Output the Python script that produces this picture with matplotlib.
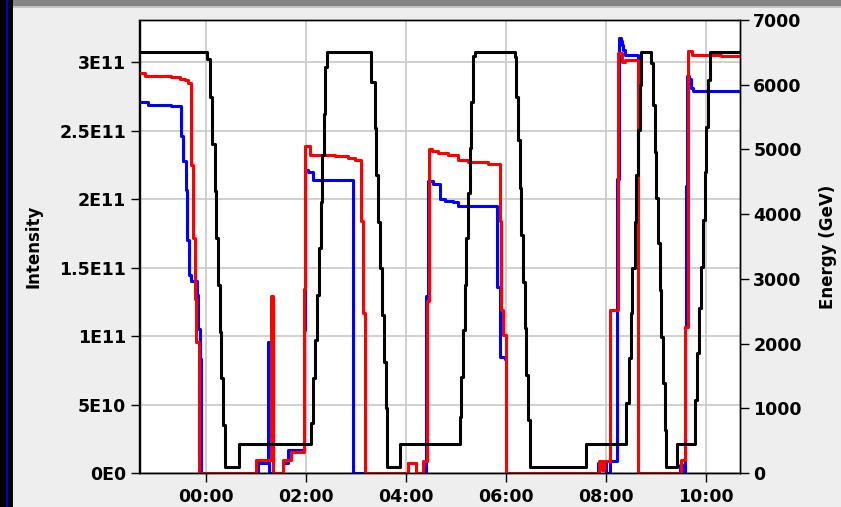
import matplotlib
matplotlib.use("Agg")
import matplotlib.pyplot as plt
from matplotlib.patches import Rectangle
from matplotlib.lines import Line2D

plt.rcParams['font.family'] = ['DejaVu Sans']
plt.rcParams['font.weight'] = 'bold'

# ---- data (time in hours relative to 00:00) ----
x_ticks = [0, 2, 4, 6, 8, 10]
x_tick_labels = ["00:00", "02:00", "04:00", "06:00", "08:00", "10:00"]
int_ticks = [0, 0.5, 1.0, 1.5, 2.0, 2.5, 3.0]          # in units of 1E11
int_tick_labels = ["0E0", "5E10", "1E11", "1.5E11", "2E11", "2.5E11", "3E11"]
en_ticks = [0, 1000, 2000, 3000, 4000, 5000, 6000, 7000]
en_tick_labels = ["0", "1000", "2000", "3000", "4000", "5000", "6000", "7000"]

energy_t = [-1.32, 0.036, 0.084, 0.13, 0.184, 0.216, 0.25, 0.284, 0.316, 0.35, 0.384, 0.67,
            2.104, 2.15, 2.184, 2.236, 2.264, 2.304, 2.336, 2.37, 2.396, 2.436,
            3.316, 3.384, 3.416, 3.45, 3.484, 3.53, 3.57, 3.604, 3.636, 3.89,
            5.084, 5.116, 5.15, 5.184, 5.216, 5.25, 5.284, 5.316, 5.35, 5.384,
            6.184, 6.216, 6.25, 6.284, 6.316, 6.35, 6.384, 6.416, 6.45, 6.484, 7.616,
            8.416, 8.464, 8.504, 8.536, 8.584, 8.616, 8.65, 8.684, 8.716,
            8.904, 8.95, 8.984, 9.016, 9.05, 9.084, 9.116, 9.15, 9.184, 9.216, 9.436,
            9.784, 9.836, 9.87, 9.916, 9.95, 9.984, 10.016, 10.05, 10.084, 10.69]
energy_gev = [6500, 6390, 5815, 5085, 4365, 3625, 2905, 2185, 1465, 740, 100, 450,
              770, 1465, 2055, 2750, 3470, 4190, 4915, 5555, 6280, 6500,
              6045, 5325, 4605, 3885, 3165, 2440, 1720, 1000, 100, 450,
              870, 1490, 2210, 2905, 3625, 4320, 5015, 5735, 6440, 6500,
              6430, 5815, 5145, 4400, 3675, 2955, 2235, 1515, 820, 100, 450,
              1080, 1770, 2470, 3165, 3885, 4605, 5300, 5995, 6500,
              6330, 5685, 4965, 4245, 3550, 2830, 2105, 1385, 665, 100, 450,
              1130, 1850, 2545, 3190, 3910, 4655, 5350, 6075, 6500, 6500]

b2_t = [-1.32, -1.216, -0.684, -0.516, -0.416, -0.35, -0.284, -0.25, -0.216, -0.184, -0.136,
        1.016, 1.316, 1.344, 1.55, 1.716, 1.97, 1.996, 2.084, 2.584, 2.85, 2.984, 3.104, 3.15, 3.184,
        4.05, 4.216, 4.35, 4.436, 4.464, 4.53, 4.65, 4.85, 5.05, 5.25, 5.65, 5.884, 5.916, 5.95, 6.016,
        7.86, 7.93, 7.96, 8.084, 8.256, 8.32, 8.39, 8.656,
        9.516, 9.584, 9.656, 9.72, 10.3, 10.69]
b2_int = [2.92, 2.90, 2.89, 2.88, 2.87, 2.85, 2.25, 1.72, 1.27, 0.96, 0.0,
          0.095, 1.29, 0.0, 0.095, 0.15, 1.345, 2.39, 2.325, 2.315, 2.30, 2.29, 1.84, 1.17, 0.0,
          0.07, 0.0, 0.09, 1.26, 2.37, 2.35, 2.34, 2.32, 2.29, 2.27, 2.26, 1.84, 1.19, 1.01, 0.0,
          0.09, 0.02, 0.09, 1.19, 3.07, 3.00, 3.02, 0.0,
          0.095, 1.07, 3.08, 3.055, 3.045, 3.045]

b1_t = [-1.32, -1.15, -0.684, -0.484, -0.45, -0.396, -0.364, -0.336, -0.284, -0.18, -0.15, -0.12, -0.09,
        1.05, 1.25, 1.276, 1.556, 1.656, 1.97, 1.996, 2.05, 2.15, 2.95,
        4.05, 4.216, 4.416, 4.45, 4.55, 4.68, 4.78, 4.95, 5.05, 5.836, 5.884, 5.984, 6.016,
        7.85, 8.00, 8.09, 8.22, 8.236, 8.276, 8.30, 8.33, 8.35, 8.39, 8.656,
        9.48, 9.56, 9.584, 9.60, 9.62, 9.66, 9.70, 9.74, 10.69]
b1_int = [2.71, 2.69, 2.68, 2.46, 2.28, 2.07, 1.70, 1.45, 1.40, 1.30, 1.05, 0.83, 0.0,
          0.07, 0.96, 0.0, 0.07, 0.17, 1.045, 2.215, 2.20, 2.14, 0.0,
          0.07, 0.0, 1.29, 2.13, 2.11, 2.00, 1.99, 1.98, 1.95, 1.36, 0.85, 0.83, 0.0,
          0.07, 0.0, 0.09, 1.17, 2.15, 3.18, 3.16, 3.13, 3.09, 3.055, 0.0,
          0.06, 0.0, 1.07, 2.10, 2.90, 2.88, 2.81, 2.79, 2.79]

# ---- figure ----
W, H = 841, 507
fig = plt.figure(figsize=(W / 100, H / 100), dpi=100, facecolor="#eeeeee")

# window decorations
fig.patches.append(Rectangle((0, 0), 13 / W, 1, transform=fig.transFigure,
                             facecolor="black", edgecolor="none"))
fig.lines.append(Line2D([6.5 / W, 6.5 / W], [0, 1], transform=fig.transFigure,
                        color="#0000ff", lw=1.2))
fig.patches.append(Rectangle((13 / W, 1 - 6 / H), 1, 6 / H, transform=fig.transFigure,
                             facecolor="#848484", edgecolor="none"))
fig.patches.append(Rectangle((13 / W, 1 - 7.5 / H), 1, 1.5 / H, transform=fig.transFigure,
                             facecolor="#c4c4c4", edgecolor="none"))

ax = fig.add_axes([139.5 / W, 34 / H, 600.5 / W, 453 / H])
ax.set_facecolor("white")
ax.set_xlim(-1.32, 10.69)
ax.set_ylim(0, 3.31)
ax.grid(True, color="#c8c8c8", lw=1.2)
ax.set_axisbelow(True)

ax.plot(b1_t, b1_int, drawstyle="steps-post", color="#0000ff", lw=2.2, zorder=3)
ax.plot(b2_t, b2_int, drawstyle="steps-post", color="#ff0000", lw=2.2, zorder=4)

ax.set_xticks(x_ticks)
ax.set_xticklabels(x_tick_labels)
ax.set_yticks(int_ticks)
ax.set_yticklabels(int_tick_labels)
ax.tick_params(axis="both", direction="out", length=6.5, width=1.0, labelsize=12.5,
               colors="black")
ax.tick_params(axis="x", pad=4)
ax.tick_params(axis="y", pad=3)
for s in ax.spines.values():
    s.set_color("black")
    s.set_linewidth(1.0)
ax.set_ylabel("Intensity", fontsize=12, fontweight="bold")
ax.yaxis.set_label_coords(-0.161, 0.5)

ax2 = ax.twinx()
ax2.set_ylim(0, 7000)
ax2.plot(energy_t, energy_gev, drawstyle="steps-post", color="black", lw=2.2)
ax2.set_yticks(en_ticks)
ax2.set_yticklabels(en_tick_labels)
ax2.tick_params(axis="y", direction="out", length=6.5, width=1.0, labelsize=12.5, pad=3,
                colors="black")
for s in ax2.spines.values():
    s.set_color("black")
    s.set_linewidth(1.0)
ax2.set_ylabel("Energy (GeV)", fontsize=12, fontweight="bold")
ax2.yaxis.set_label_coords(1.1315, 0.5)

fig.savefig("out.png", dpi=100, facecolor=fig.get_facecolor())
